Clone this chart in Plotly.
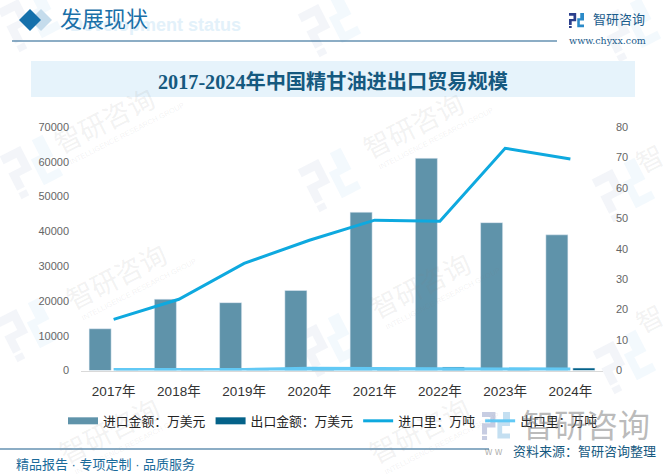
import math
import plotly.graph_objects as go

years = ["2017年", "2018年", "2019年", "2020年", "2021年", "2022年", "2023年", "2024年"]
import_value = [12000, 20500, 19500, 23000, 45500, 61000, 42500, 39000]
export_value = [60, 60, 60, 300, 300, 1000, 400, 700]
import_volume = [16.8, 23.4, 35.2, 42.8, 49.4, 49.0, 73.0, 69.5]
export_volume = [0.2, 0.2, 0.2, 0.6, 0.5, 0.4, 0.3, 0.3]

W, H = 668, 476
NAVY = "#1a5c8c"
SANS = "Liberation Sans, Noto Sans CJK SC"
SERIF = "Liberation Serif, Noto Sans CJK SC"

# logo pieces in a unit box
LOGO_LEFT = [
    [(0, 0), (.48, 0), (.48, .55), (.18, .55), (.18, .8), (0, .8), (0, .4), (.3, .4), (.3, .18), (0, .18)],
    [(0, .86), (.18, .86), (.18, 1), (0, 1)],
]
LOGO_RIGHT = [
    [(.75, 0), (1, 0), (1, .5), (.72, .5), (.72, .77), (1, .77), (1, .95), (.55, .95), (.55, .35), (.75, .35)],
]


def px(x):
    return x / W


def py(y):
    return 1 - y / H


def rect(x0, y0, x1, y1, color, layer="below"):
    return dict(type="rect", xref="paper", yref="paper", x0=px(x0), x1=px(x1), y0=py(y0), y1=py(y1),
                fillcolor=color, line_width=0, layer=layer)


def diamond(cx, cy, r, color):
    path = f"M{px(cx - r)},{py(cy)} L{px(cx)},{py(cy - r)} L{px(cx + r)},{py(cy)} L{px(cx)},{py(cy + r)} Z"
    return dict(type="path", xref="paper", yref="paper", path=path, fillcolor=color, line_width=0, layer="below")


def logo(cx, cy, size, left_color, right_color, angle=0, layer="below"):
    a = math.radians(angle)
    out = []
    for polys, color in ((LOGO_LEFT, left_color), (LOGO_RIGHT, right_color)):
        parts = []
        for poly in polys:
            pts = []
            for u, v in poly:
                dx, dy = (u - .5) * size, (v - .5) * size
                pts.append((cx + dx * math.cos(a) + dy * math.sin(a), cy - dx * math.sin(a) + dy * math.cos(a)))
            parts.append("M" + " L".join(f"{px(x):.5f},{py(y):.5f}" for x, y in pts) + " Z")
        out.append(dict(type="path", xref="paper", yref="paper", path=" ".join(parts), fillcolor=color,
                        line_width=0, layer=layer))
    return out


def label(text, x, y, size, color, family=SANS, anchor="left", angle=0, bold=False):
    if bold:
        text = f"<b>{text}</b>"
    return dict(text=text, x=px(x), y=py(y), xref="paper", yref="paper", showarrow=False, xanchor=anchor,
                yanchor="middle", textangle=angle, font=dict(size=size, color=color, family=family))


fig = go.Figure()

fig.add_trace(go.Bar(x=years, y=import_value, marker_color="#5f93aa", showlegend=False, yaxis="y"))
fig.add_trace(go.Bar(x=years, y=export_value, marker_color="#046289", showlegend=False, yaxis="y"))
fig.add_trace(go.Scatter(x=years, y=import_volume, mode="lines", line=dict(color="#0ea9df", width=3),
                         showlegend=False, yaxis="y2"))
fig.add_trace(go.Scatter(x=years, y=export_volume, mode="lines", line=dict(color="#62c9f5", width=4),
                         showlegend=False, yaxis="y2", cliponaxis=False))

# legend swatches: bars need the wide flat key of the original
fig.add_trace(go.Scatter(x=[None], y=[None], mode="lines", name="进口金额：万美元", line=dict(color="#5f93aa", width=7)))
fig.add_trace(go.Scatter(x=[None], y=[None], mode="lines", name="出口金额：万美元", line=dict(color="#046289", width=7)))
fig.add_trace(go.Scatter(x=[None], y=[None], mode="lines", name="进口里：万吨", line=dict(color="#0ea9df", width=3)))
fig.add_trace(go.Scatter(x=[None], y=[None], mode="lines", name="出口里：万吨", line=dict(color="#62c9f5", width=3)))

shapes = []

# faint tilted logos behind everything
for lx, ly in [(30, 20), (330, 25), (630, 30), (32, 167), (330, 180), (624, 190), (28, 330), (328, 345), (625, 362)]:
    shapes += logo(lx, ly, 48, "rgba(90,120,170,0.07)", "rgba(90,170,220,0.07)", angle=27)

shapes += [
    diamond(41, 20, 11, "#c5dcec"),
    diamond(30, 20, 11, "#1570ab"),
    rect(12, 40.5, 557, 41.5, NAVY),
    rect(31, 61, 635, 97, "#e6f3fb"),
    rect(0, 448.6, 489, 449.6, NAVY),
]
shapes += logo(576.5, 20.5, 15, "#2b3f8c", "#2b8ac8")
shapes += logo(496, 426, 28, "rgba(70,90,160,0.3)", "rgba(60,150,210,0.3)", layer="above")

annotations = []

# faint diagonal company watermark
for wx, wy in [(105, 122), (414, 127), (117, 278), (421, 287), (110, 432), (420, 432)]:
    annotations.append(label("智研咨询", wx, wy, 27, "rgba(130,130,130,0.11)", anchor="center", angle=-27))
    annotations.append(label("INTELLIGENCE RESEARCH GROUP", wx + 22, wy + 11, 7.5, "rgba(130,130,130,0.11)",
                             anchor="center", angle=-27))
annotations.append(label("智", 650, 160, 27, "rgba(130,130,130,0.11)", anchor="center", angle=-27))
annotations.append(label("智", 650, 320, 27, "rgba(130,130,130,0.11)", anchor="center", angle=-27))

annotations += [
    label("Development status", 243, 25, 18, "#e3f1fa", family="Liberation Sans", anchor="right", bold=True),
    label("发展现状", 58, 20, 22, "#1a70a8", family=SERIF),
    label("2017-2024年中国精甘油进出口贸易规模", 333, 82, 20.2, "#15597f", family=SERIF, anchor="center", bold=True),
    label("智研咨询", 591, 20, 13, NAVY),
    label("www.chyxx.com", 567, 40, 9.5, NAVY, family="DejaVu Serif"),
    label("精品报告 · 专项定制 · 品质服务", 14, 464, 13, "#1a6a9a"),
    label("智研咨询", 520, 426, 32, "rgba(120,120,120,0.5)"),
    label("w w", 482, 451, 10, "rgba(120,120,120,0.6)"),
    label("资料来源：智研咨询整理", 511, 451, 13, "#15597f"),
]

x_domain = [px(81), px(603)]
y_domain = [py(370.5), py(127)]

fig.update_layout(
    width=W,
    height=H,
    margin=dict(l=0, r=0, t=0, b=0, autoexpand=False),
    paper_bgcolor="white",
    plot_bgcolor="rgba(0,0,0,0)",
    barmode="group",
    bargap=0.172,
    bargroupgap=0.185,
    font=dict(family=SANS),
    shapes=shapes,
    annotations=annotations,
    legend=dict(orientation="h", x=px(63), y=py(421), xanchor="left", yanchor="middle", itemwidth=30,
                font=dict(size=12.8, color="#222222"), bgcolor="rgba(0,0,0,0)"),
    xaxis=dict(domain=x_domain, showgrid=False, zeroline=False, showline=True, linecolor="#d9d9d9", linewidth=1,
               ticks="", tickfont=dict(size=13.5, color="#333333"), ticklabelstandoff=8),
    yaxis=dict(domain=y_domain, range=[0, 70000], dtick=10000, tickformat="d", showgrid=False, zeroline=False,
               showline=False, ticks="", tickfont=dict(size=11, color="#666666"), ticklabelstandoff=11),
    yaxis2=dict(domain=y_domain, range=[0, 80], dtick=10, overlaying="y", side="right", showgrid=False,
                zeroline=False, showline=False, ticks="", tickfont=dict(size=11, color="#666666"),
                ticklabelstandoff=12),
)

fig.write_html("out.html", config={"displayModeBar": False}, post_script="document.body.style.margin='0';")
